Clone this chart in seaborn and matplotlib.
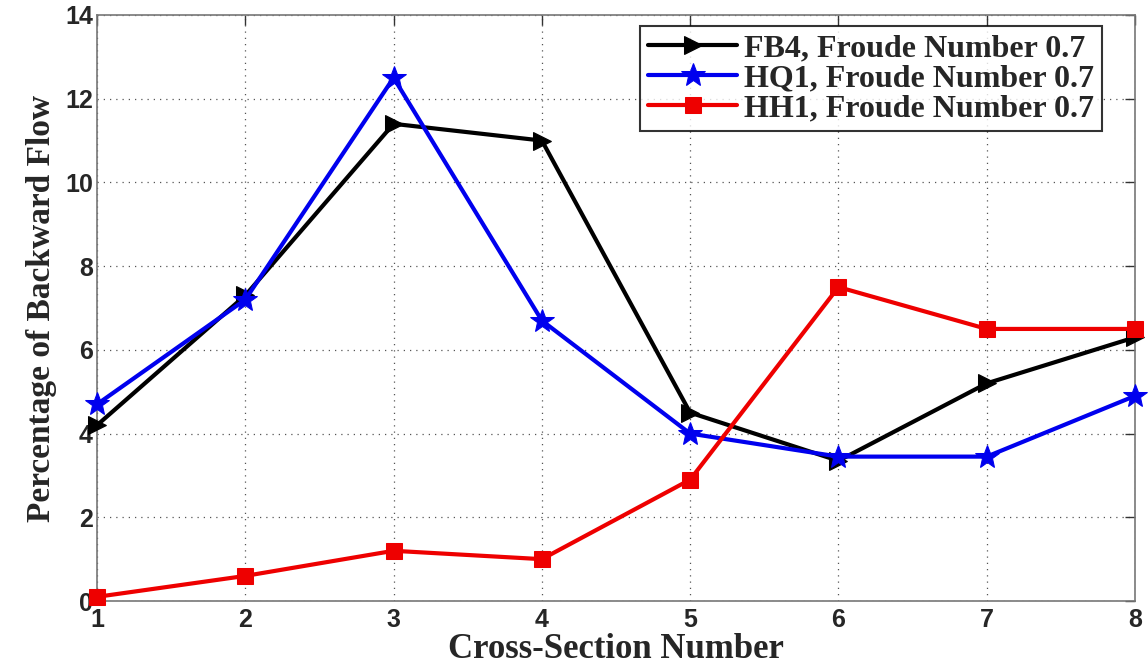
import matplotlib
matplotlib.use("Agg")
import matplotlib.pyplot as plt
import seaborn as sns
import pandas as pd

cross_section = [1, 2, 3, 4, 5, 6, 7, 8]
fb4 = [4.2, 7.3, 11.4, 11.0, 4.5, 3.35, 5.2, 6.3]
hq1 = [4.7, 7.2, 12.5, 6.7, 4.0, 3.45, 3.45, 4.9]
hh1 = [0.1, 0.6, 1.2, 1.0, 2.9, 7.5, 6.5, 6.5]
labels = ["FB4, Froude Number 0.7", "HQ1, Froude Number 0.7", "HH1, Froude Number 0.7"]
y_ticks = [0, 2, 4, 6, 8, 10, 12, 14]

sns.set_style("white")
serif_bold = {"family": "Liberation Serif", "weight": "bold"}

fig = plt.figure(figsize=(11.48, 6.69), dpi=100)
ax = fig.add_axes([0.0845, 0.1016, 0.9042, 0.876])

styles = [
    (fb4, labels[0], "black", ">", 13),
    (hq1, labels[1], "#0000ee", "*", 18),
    (hh1, labels[2], "#ee0000", "s", 11),
]
for values, name, color, marker, ms in styles:
    df = pd.DataFrame({"x": cross_section, "y": values})
    sns.lineplot(data=df, x="x", y="y", ax=ax, color=color, marker=marker,
                 markersize=ms, linewidth=3, markeredgecolor=color,
                 label=name, clip_on=False, zorder=3)

ax.set_xlim(1, 8)
ax.set_ylim(0, 14)
ax.set_xticks(cross_section)
ax.set_yticks(y_ticks)
ax.grid(True, linestyle=(0, (1, 4)), color="#555555", linewidth=0.9)
ax.tick_params(direction="in", length=7, width=1, color="#333333",
               top=True, right=True, labelsize=18)
ax.tick_params(axis="x", pad=5)
ax.tick_params(axis="y", pad=3)
for lab in ax.get_xticklabels() + ax.get_yticklabels():
    lab.set_family("Liberation Sans")
    lab.set_fontweight("bold")
for sp in ax.spines.values():
    sp.set_color("#777777")
    sp.set_linewidth(1.2)

ax.set_xlabel("Cross-Section Number", fontsize=25, labelpad=1, **serif_bold)
ax.set_ylabel("Percentage of Backward Flow", fontsize=24, labelpad=6, **serif_bold)

leg = ax.legend(loc="upper right", bbox_to_anchor=(0.968, 0.981),
                prop={"family": "Liberation Serif", "weight": "bold", "size": 23},
                handlelength=2.8, handletextpad=0.2, labelspacing=0.02,
                borderpad=0.25, frameon=True, fancybox=False, borderaxespad=0)
leg.get_frame().set_edgecolor("black")
leg.get_frame().set_linewidth(1.5)

fig.savefig("out.png", dpi=100)
